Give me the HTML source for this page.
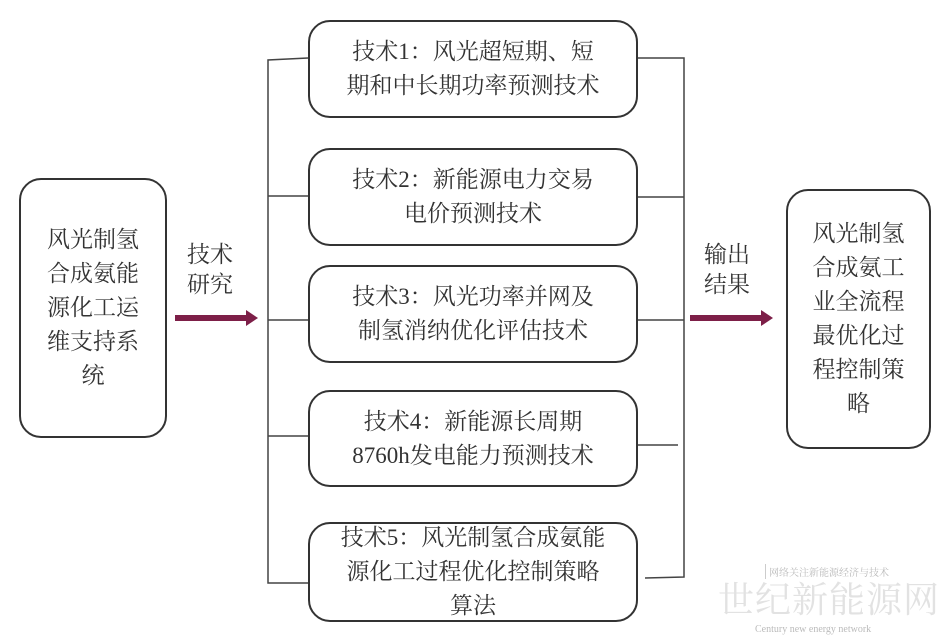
<!DOCTYPE html>
<html><head><meta charset="utf-8"><style>
html,body{margin:0;padding:0;background:#fff;}
body{width:949px;height:640px;position:relative;overflow:hidden;font-family:"Liberation Serif","Noto Serif CJK SC","Noto Sans CJK SC",serif;color:#333;}
.b{position:absolute;border:2px solid #333;border-radius:22px;box-sizing:border-box;display:flex;align-items:center;justify-content:center;text-align:center;font-size:23px;line-height:34px;}
.t{position:absolute;font-size:23px;line-height:30px;text-align:center;}
</style></head><body>
<div class="b" style="left:19px;top:178px;width:148px;height:260px;padding:0 10px;">风光制氢<br>合成氨能<br>源化工运<br>维支持系<br>统</div>
<div class="t" style="left:180px;top:240px;width:60px;">技术<br>研究</div>
<svg style="position:absolute;left:0;top:0" width="949" height="640">
<rect x="175" y="315" width="72" height="6" fill="#7d1f48"/><polygon points="246,310 258,318 246,326" fill="#7d1f48"/>
<rect x="690" y="315" width="72" height="6" fill="#7d1f48"/><polygon points="761,310 773,318 761,326" fill="#7d1f48"/>
<g stroke="#444" stroke-width="1.5" fill="none">
<path d="M308,58 L268,60 L268,583 L308,583"/>
<line x1="268" y1="196" x2="308" y2="196"/>
<line x1="268" y1="320" x2="308" y2="320"/>
<line x1="268" y1="436" x2="308" y2="436"/>
<path d="M638,58 L684,58 L684,577 L645,578"/>
<line x1="638" y1="197" x2="684" y2="197"/>
<line x1="638" y1="320" x2="684" y2="320"/>
<line x1="638" y1="445" x2="678" y2="445"/>
</g></svg>
<div class="b" style="left:308px;top:20px;width:330px;height:98px;">技术1：风光超短期、短<br>期和中长期功率预测技术</div>
<div class="b" style="left:308px;top:148px;width:330px;height:98px;">技术2：新能源电力交易<br>电价预测技术</div>
<div class="b" style="left:308px;top:265px;width:330px;height:98px;">技术3：风光功率并网及<br>制氢消纳优化评估技术</div>
<div class="b" style="left:308px;top:390px;width:330px;height:97px;">技术4：新能源长周期<br>8760h发电能力预测技术</div>
<div class="b" style="left:308px;top:522px;width:330px;height:100px;">技术5：风光制氢合成氨能<br>源化工过程优化控制策略<br>算法</div>
<div class="t" style="left:697px;top:240px;width:60px;">输出<br>结果</div>
<div class="b" style="left:786px;top:189px;width:145px;height:260px;">风光制氢<br>合成氨工<br>业全流程<br>最优化过<br>程控制策<br>略</div>
<div style="position:absolute;left:765px;top:564px;font-size:10px;color:#bbb;border-left:1px solid #ccc;padding-left:3px;white-space:nowrap;">网络关注新能源经济与技术</div>
<div style="position:absolute;left:718px;top:580px;font-size:36px;color:#e2e2e2;line-height:40px;white-space:nowrap;letter-spacing:1px;">世纪新能源网</div>
<div style="position:absolute;left:755px;top:624px;font-size:10px;color:#bbb;white-space:nowrap;">Century new energy network</div>
</body></html>
